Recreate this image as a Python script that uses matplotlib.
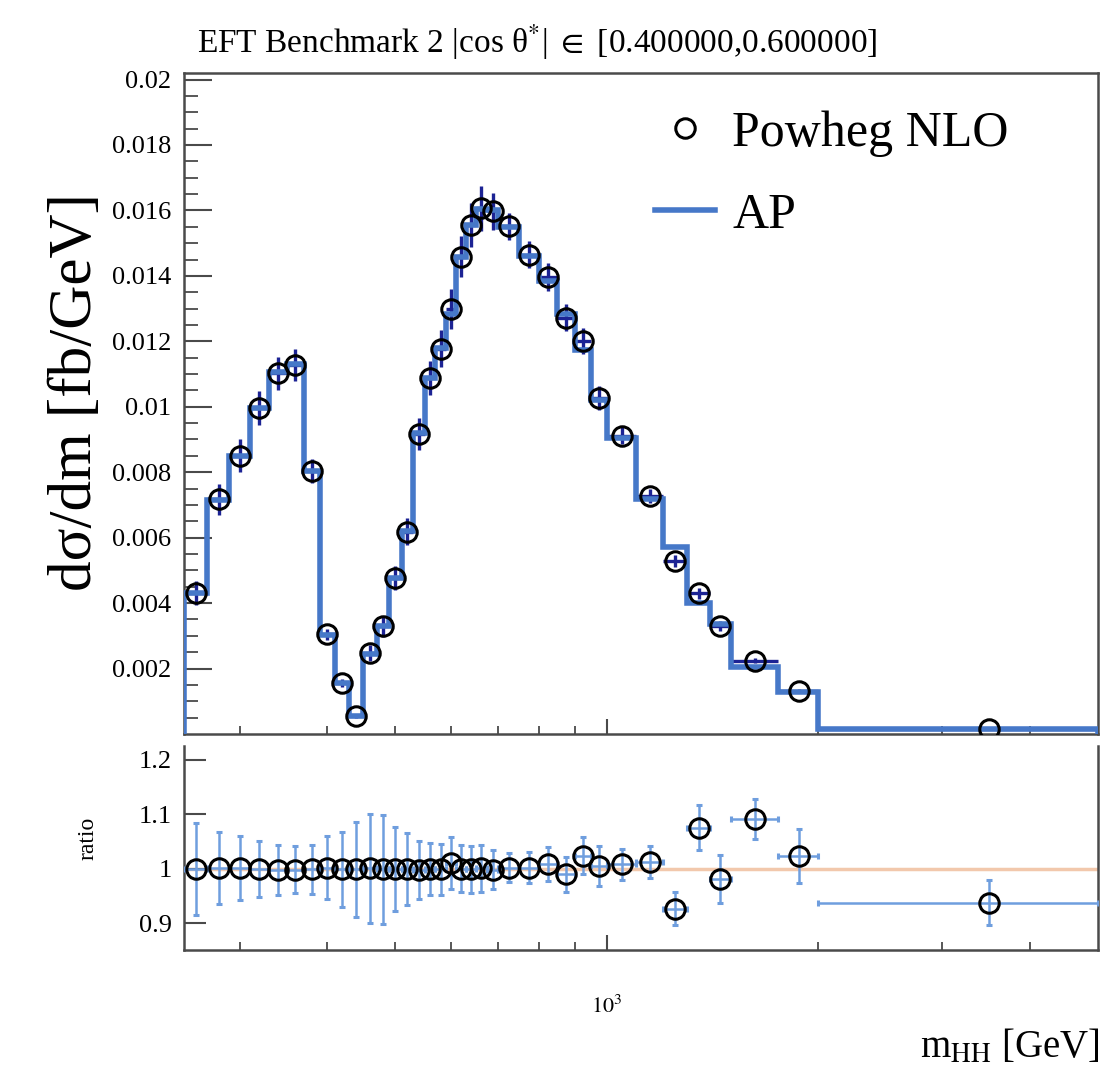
import numpy as np
import matplotlib
matplotlib.use("Agg")
import matplotlib.pyplot as plt
from matplotlib.ticker import FixedLocator, NullFormatter, FixedFormatter
from matplotlib.lines import Line2D

plt.rcParams["font.family"] = ["Liberation Serif", "DejaVu Serif"]
plt.rcParams["mathtext.fontset"] = "stix"

# m_HH binning [GeV]
bin_edges = [250, 270, 290, 310, 330, 350, 370, 390, 410, 430, 450, 470, 490,
             510, 530, 550, 570, 590, 610, 630, 650, 675, 700, 750, 800, 850,
             900, 950, 1000, 1100, 1200, 1300, 1400, 1500, 1750, 2000, 5000]

# AP prediction, dsigma/dm [fb/GeV]
ap_xsec = [0.00431, 0.00716, 0.00850, 0.00996, 0.01105, 0.01130, 0.00805,
           0.00304, 0.00156, 0.00054, 0.00246, 0.00329, 0.00477, 0.00619,
           0.00920, 0.01088, 0.01179, 0.01285, 0.01459, 0.01556, 0.01605,
           0.01600, 0.01548, 0.01462, 0.01385, 0.01285, 0.01172, 0.01022,
           0.00904, 0.00718, 0.00570, 0.00400, 0.00336, 0.00205, 0.00129,
           0.00015]

# Powheg NLO / AP ratio and its uncertainty
ratio_vals = [1.000, 1.001, 1.001, 1.000, 0.998, 0.998, 0.999, 1.002, 0.999,
              0.999, 1.001, 0.999, 0.999, 0.999, 0.998, 0.999, 0.999, 1.010,
              1.000, 0.999, 1.001, 0.998, 1.002, 1.002, 1.008, 0.990, 1.024,
              1.005, 1.008, 1.0125, 0.927, 1.0755, 0.981, 1.091, 1.0235, 0.938]
ratio_errs = [0.084, 0.066, 0.059, 0.051, 0.046, 0.043, 0.045, 0.058, 0.069,
              0.087, 0.100, 0.100, 0.077, 0.066, 0.053, 0.048, 0.047, 0.048,
              0.043, 0.043, 0.043, 0.036, 0.026, 0.028, 0.031, 0.032, 0.034,
              0.036, 0.029, 0.029, 0.031, 0.041, 0.044, 0.037, 0.050, 0.041]

y_ticks = [0.002, 0.004, 0.006, 0.008, 0.01, 0.012, 0.014, 0.016, 0.018, 0.02]
y_tick_labels = ["0.002", "0.004", "0.006", "0.008", "0.01", "0.012", "0.014",
                 "0.016", "0.018", "0.02"]
r_ticks = [0.9, 1.0, 1.1, 1.2]
r_tick_labels = ["0.9", "1", "1.1", "1.2"]
x_major = [1000]
x_minor = [300, 400, 500, 600, 700, 800, 900, 2000, 3000, 4000]

edges = np.array(bin_edges, dtype=float)
centers = 0.5 * (edges[:-1] + edges[1:])
half_w = 0.5 * np.diff(edges)
ap = np.array(ap_xsec)
ratio = np.array(ratio_vals)
rerr = np.array(ratio_errs)
powheg = ap * ratio
powheg_err = ap * rerr

AP_BLUE = "#4678c8"
NAVY = "#1c2394"
ERR_BLUE = "#6f9ede"
REF_LINE = "#f2c8ac"
FRAME = "#4a4a4a"
MS, MEW = 14, 2.2

W, H = 1106, 1076
fig = plt.figure(figsize=(W / 100, H / 100), dpi=100)


def box(l, t, r, b):
    return [l / W, 1 - b / H, (r - l) / W, (b - t) / H]


ax = fig.add_axes(box(184, 73, 1098, 734))
axr = fig.add_axes(box(184, 746, 1098, 950))

for a in (ax, axr):
    a.set_xscale("log")
    a.set_xlim(edges[0], edges[-1])
    a.xaxis.set_major_locator(FixedLocator(x_major))
    a.xaxis.set_minor_locator(FixedLocator(x_minor))
    a.xaxis.set_minor_formatter(NullFormatter())
    for s in a.spines.values():
        s.set_color(FRAME)
        s.set_linewidth(1.8)

# ---- main panel ----
ax.errorbar(centers, powheg, yerr=powheg_err, xerr=half_w, fmt="none",
            ecolor=NAVY, elinewidth=2.4, capsize=0, zorder=2)
ax.stairs(ap, edges, baseline=0, color=AP_BLUE, linewidth=4.0, zorder=3)
ax.plot(centers, powheg, "o", mfc="none", mec="black", ms=MS, mew=MEW,
        zorder=4)

ax.set_ylim(0, 0.0202)
ax.yaxis.set_major_locator(FixedLocator(y_ticks))
ax.yaxis.set_major_formatter(FixedFormatter(y_tick_labels))
ax.yaxis.set_minor_locator(FixedLocator(np.arange(1, 41) * 0.0005))
ax.xaxis.set_major_formatter(NullFormatter())
ax.tick_params(axis="y", which="major", direction="in", length=20, width=1.5,
               color=FRAME, labelsize=19, pad=9)
ax.tick_params(axis="y", which="minor", direction="in", length=10, width=1.3,
               color=FRAME)
ax.tick_params(axis="x", which="major", direction="in", length=11, width=1.5,
               color=FRAME)
ax.tick_params(axis="x", which="minor", direction="in", length=6, width=1.3,
               color=FRAME)

handles = [Line2D([], [], ls="none", marker="o", mfc="none", mec="black",
                  ms=MS, mew=MEW),
           Line2D([], [], color=AP_BLUE, lw=4.0)]
ax.legend(handles, ["Powheg NLO", "AP"], loc="upper left",
          bbox_to_anchor=(0.515, 0.944), frameon=False, fontsize=36,
          handlelength=1.2, handletextpad=0.35, labelspacing=0.71,
          borderpad=0, borderaxespad=0)

fig.text(76 / W, 1 - 392 / H, "d\u03c3/dm [fb/GeV]", rotation=90,
         ha="center", va="center", fontsize=44)

# ---- ratio panel ----
axr.axhline(1.0, color=REF_LINE, lw=2.5, zorder=1)
axr.errorbar(centers, ratio, yerr=rerr, xerr=half_w, fmt="o", mfc="none",
             mec="black", ms=MS, mew=MEW, ecolor=ERR_BLUE, elinewidth=1.8,
             capsize=2.5, capthick=1.5, zorder=3)
axr.set_ylim(0.851, 1.225)
axr.yaxis.set_major_locator(FixedLocator(r_ticks))
axr.yaxis.set_major_formatter(FixedFormatter(r_tick_labels))
axr.xaxis.set_major_formatter(FixedFormatter(["$10^{3}$"]))
axr.spines["top"].set_visible(False)
axr.tick_params(axis="y", which="major", direction="in", length=16, width=1.5,
                color=FRAME, labelsize=19, pad=9)
axr.tick_params(axis="x", which="major", direction="in", length=11, width=1.5,
                color=FRAME, labelsize=16, pad=33)
axr.tick_params(axis="x", which="minor", direction="in", length=6, width=1.3,
                color=FRAME)

fig.text(88 / W, 1 - 838 / H, "ratio", rotation=90, ha="center", va="center",
         fontsize=17)
fig.text(1100 / W, 1 - 1048 / H, r"m$_{\mathrm{HH}}$ [GeV]", ha="right",
         va="center", fontsize=28)
fig.text(197 / W, 1 - 42 / H,
         "EFT Benchmark 2 |cos \u03b8$^{*}$| $\\in$ [0.400000,0.600000]",
         ha="left", va="center", fontsize=24)

fig.savefig("out.png", dpi=100)
